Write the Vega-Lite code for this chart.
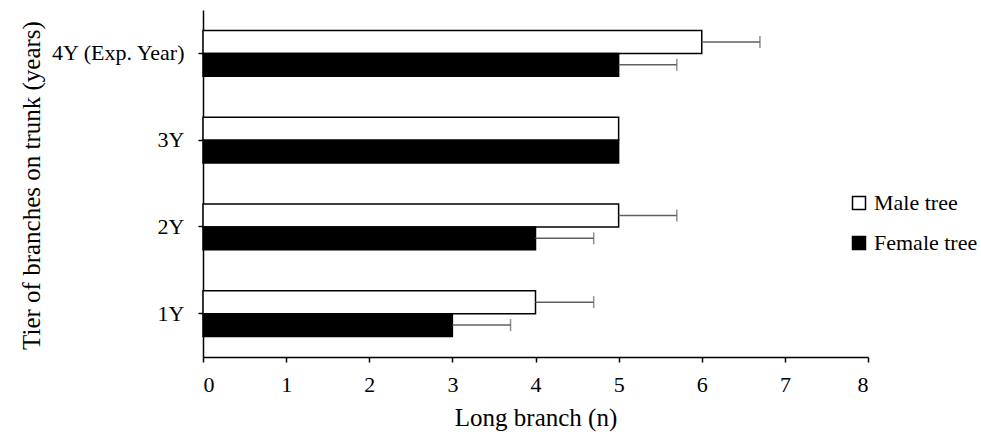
{
  "$schema": "https://vega.github.io/schema/vega-lite/v6.json",
  "width": 665,
  "height": 347,
  "autosize": {"type": "none"},
  "padding": {"left": 203, "top": 10, "right": 113, "bottom": 75},
  "background": "white",
  "config": {
    "view": {"stroke": null},
    "font": "'Liberation Serif', 'Times New Roman', 'DejaVu Serif', serif",
    "axis": {"grid": false, "domainColor": "black", "domainWidth": 1.5, "tickColor": "black", "tickWidth": 1.5, "tickSize": 5, "labelColor": "black", "titleColor": "black", "labelFont": "'Liberation Serif', 'Times New Roman', serif", "titleFont": "'Liberation Serif', 'Times New Roman', serif", "labelFontSize": 22, "titleFontSize": 25, "titleFontWeight": "normal"}
  },
  "data": {
    "values": [
      {"tier": "4Y (Exp. Year)", "series": "Male tree", "value": 6, "upper": 6.7, "err": 0.7},
      {"tier": "4Y (Exp. Year)", "series": "Female tree", "value": 5, "upper": 5.7, "err": 0.7},
      {"tier": "3Y", "series": "Male tree", "value": 5, "upper": 5, "err": 0},
      {"tier": "3Y", "series": "Female tree", "value": 5, "upper": 5, "err": 0},
      {"tier": "2Y", "series": "Male tree", "value": 5, "upper": 5.7, "err": 0.7},
      {"tier": "2Y", "series": "Female tree", "value": 4, "upper": 4.7, "err": 0.7},
      {"tier": "1Y", "series": "Male tree", "value": 4, "upper": 4.7, "err": 0.7},
      {"tier": "1Y", "series": "Female tree", "value": 3, "upper": 3.7, "err": 0.7}
    ]
  },
  "encoding": {
    "y": {
      "field": "tier", "type": "nominal",
      "sort": ["4Y (Exp. Year)", "3Y", "2Y", "1Y"],
      "scale": {"paddingInner": 0.47, "paddingOuter": 0.235},
      "axis": {"title": "Tier of branches on trunk (years)", "labelPadding": 14, "titleAngle": 270, "titleX": -172, "titleY": 175, "titleBaseline": "middle", "titleAlign": "center"}
    },
    "yOffset": {"field": "series", "type": "nominal", "sort": ["Male tree", "Female tree"], "scale": {"domain": ["Male tree", "Female tree"], "paddingInner": 0, "paddingOuter": 0}}
  },
  "layer": [
    {
      "mark": {"type": "bar", "stroke": "black", "strokeWidth": 1.5},
      "encoding": {
        "x": {
          "field": "value", "type": "quantitative",
          "scale": {"domain": [0, 8], "nice": false},
          "axis": {"title": "Long branch (n)", "values": [0, 1, 2, 3, 4, 5, 6, 7, 8], "format": "d", "labelPadding": 12, "titleX": 332.5, "titleY": 68, "titleBaseline": "alphabetic", "titleAlign": "center"}
        },
        "fill": {
          "field": "series", "type": "nominal",
          "scale": {"domain": ["Male tree", "Female tree"], "range": ["white", "black"]},
          "legend": {"title": null, "orient": "none", "legendX": 645, "legendY": 182, "symbolType": "square", "symbolSize": 169, "symbolStrokeColor": "black", "symbolStrokeWidth": 1.5, "labelFont": "'Liberation Serif', 'Times New Roman', serif", "labelFontSize": 22, "labelColor": "black", "labelOffset": 4, "rowPadding": 18}
        }
      }
    },
    {
      "transform": [{"filter": "datum.err > 0"}],
      "mark": {"type": "rule", "color": "#606060", "strokeWidth": 1.5},
      "encoding": {
        "x": {"field": "value", "type": "quantitative"},
        "x2": {"field": "upper"}
      }
    },
    {
      "transform": [{"filter": "datum.err > 0"}],
      "mark": {"type": "tick", "color": "#606060", "thickness": 1.5, "size": 12, "orient": "vertical"},
      "encoding": {
        "x": {"field": "upper", "type": "quantitative"}
      }
    }
  ]
}
